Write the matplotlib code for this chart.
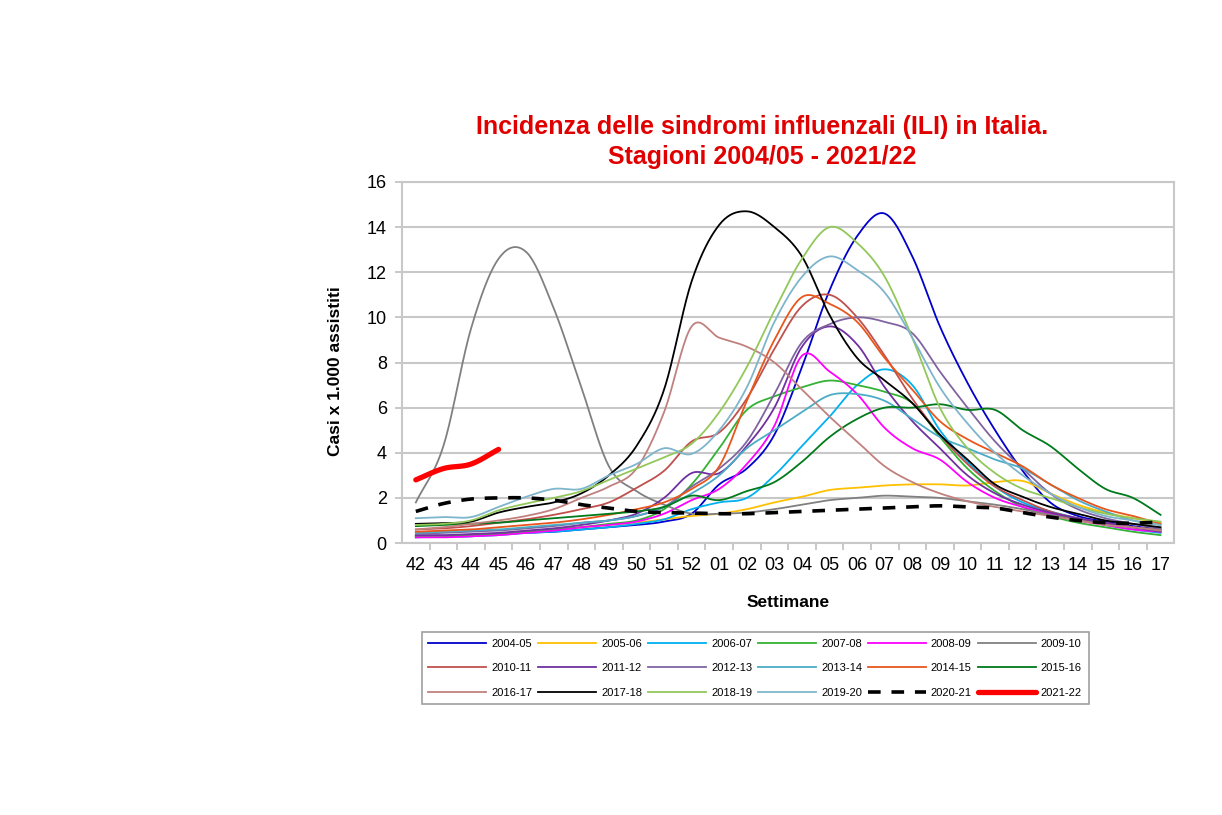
import numpy as np
import matplotlib
matplotlib.use('Agg')
import matplotlib.pyplot as plt

plt.rcParams['font.family'] = ['Liberation Sans', 'DejaVu Sans']

# settimane (asse x)
weeks = ['42', '43', '44', '45', '46', '47', '48', '49', '50', '51', '52',
         '01', '02', '03', '04', '05', '06', '07', '08', '09', '10', '11',
         '12', '13', '14', '15', '16', '17']

# incidenza per stagione (casi x 1.000 assistiti)
s0405 = [0.3, 0.3, 0.3, 0.4, 0.45, 0.5, 0.6, 0.7, 0.8, 0.95, 1.3, 2.6, 3.3, 4.8,
         7.8, 11.2, 13.6, 14.6, 12.7, 9.6, 7.1, 5.0, 3.2, 1.8, 1.2, 0.95, 0.75, 0.6]
s0506 = [0.3, 0.3, 0.35, 0.4, 0.5, 0.6, 0.7, 0.8, 0.9, 1.05, 1.2, 1.3, 1.5, 1.8,
         2.05, 2.35, 2.45, 2.55, 2.6, 2.6, 2.55, 2.7, 2.75, 2.2, 1.7, 1.35, 1.1, 0.9]
s0607 = [0.25, 0.3, 0.3, 0.35, 0.45, 0.5, 0.6, 0.7, 0.85, 1.05, 1.5, 1.8, 2.0, 3.0,
         4.3, 5.6, 7.0, 7.7, 7.0, 5.0, 3.6, 2.5, 1.8, 1.4, 1.1, 0.8, 0.6, 0.45]
s0708 = [0.3, 0.3, 0.35, 0.4, 0.5, 0.6, 0.7, 0.85, 1.0, 1.5, 2.6, 4.2, 5.9, 6.5,
         6.9, 7.2, 7.0, 6.7, 6.2, 4.7, 3.3, 2.3, 1.6, 1.2, 0.9, 0.7, 0.5, 0.35]
s0809 = [0.25, 0.25, 0.3, 0.35, 0.45, 0.55, 0.7, 0.8, 0.95, 1.3, 1.9, 2.4, 3.5, 5.2,
         8.3, 7.6, 6.6, 5.1, 4.2, 3.7, 2.7, 2.0, 1.6, 1.3, 1.0, 0.8, 0.6, 0.5]
s0910 = [1.8, 4.3, 9.5, 12.6, 12.9, 10.4, 6.9, 3.4, 2.3, 1.7, 1.3, 1.3, 1.35, 1.5,
         1.7, 1.9, 2.0, 2.1, 2.05, 2.0, 1.85, 1.7, 1.5, 1.25, 1.05, 0.85, 0.7, 0.6]
s1011 = [0.6, 0.65, 0.75, 0.9, 1.05, 1.25, 1.5, 1.8, 2.45, 3.2, 4.5, 4.9, 6.4, 8.6,
         10.5, 11.0, 10.0, 8.3, 6.4, 4.8, 3.5, 2.5, 1.9, 1.4, 1.1, 0.9, 0.7, 0.55]
s1112 = [0.35, 0.35, 0.4, 0.45, 0.55, 0.65, 0.8, 1.0, 1.3, 2.0, 3.1, 3.1, 4.3, 6.0,
         8.7, 9.6, 8.8, 6.9, 5.4, 4.2, 3.0, 2.2, 1.7, 1.35, 1.1, 0.9, 0.7, 0.5]
s1213 = [0.4, 0.45, 0.5, 0.55, 0.65, 0.75, 0.9, 1.0, 1.2, 1.6, 2.5, 3.3, 4.5, 6.6,
         8.9, 9.7, 10.0, 9.8, 9.3, 7.6, 6.0, 4.5, 3.3, 2.2, 1.5, 1.1, 0.85, 0.65]
s1314 = [0.45, 0.5, 0.55, 0.6, 0.7, 0.8, 0.9, 1.0, 1.2, 1.6, 2.2, 3.0, 4.2, 5.0,
         5.8, 6.55, 6.6, 6.3, 5.5, 4.7, 4.2, 3.7, 3.3, 2.6, 1.9, 1.4, 1.0, 0.8]
s1415 = [0.5, 0.55, 0.6, 0.7, 0.8, 0.9, 1.05, 1.25, 1.5, 1.8, 2.4, 3.4, 6.3, 9.0,
         10.9, 10.6, 9.8, 8.2, 6.8, 5.4, 4.6, 4.0, 3.4, 2.6, 2.0, 1.5, 1.2, 0.85]
s1516 = [0.75, 0.8, 0.85, 0.9, 1.0, 1.1, 1.2, 1.3, 1.4, 1.6, 2.1, 1.9, 2.3, 2.7,
         3.6, 4.7, 5.5, 6.0, 6.0, 6.15, 5.9, 5.9, 5.0, 4.3, 3.3, 2.4, 2.0, 1.25]
s1617 = [0.6, 0.7, 0.85, 1.0, 1.2, 1.5, 2.0, 2.5, 3.3, 5.8, 9.6, 9.1, 8.7, 8.0,
         6.8, 5.6, 4.5, 3.4, 2.7, 2.2, 1.85, 1.6, 1.4, 1.2, 1.0, 0.8, 0.7, 0.55]
s1718 = [0.85, 0.88, 0.95, 1.35, 1.6, 1.8, 2.2, 3.0, 4.3, 6.8, 11.6, 14.1, 14.7, 14.0,
         12.7, 10.1, 8.2, 7.2, 6.2, 4.8, 3.7, 2.6, 2.05, 1.6, 1.3, 1.0, 0.85, 0.7]
s1819 = [0.8, 0.85, 1.0, 1.45, 1.75, 2.0, 2.3, 2.8, 3.3, 3.8, 4.4, 5.8, 7.8, 10.3,
         12.6, 14.0, 13.3, 11.8, 9.1, 6.0, 4.2, 3.1, 2.4, 2.0, 1.6, 1.3, 1.1, 0.95]
s1920 = [1.1, 1.15, 1.15, 1.6, 2.05, 2.4, 2.4, 3.0, 3.5, 4.2, 3.95, 5.0, 6.9, 9.8,
         11.8, 12.7, 12.1, 11.1, 9.1, 6.9, 5.3, 4.0, 3.0, 2.2, 1.6, 1.2, 1.0, 0.8]
s2021 = [1.4, 1.75, 1.95, 2.0, 2.0, 1.9, 1.7, 1.55, 1.4, 1.35, 1.33, 1.3, 1.3, 1.35,
         1.4, 1.45, 1.5, 1.55, 1.6, 1.65, 1.6, 1.55, 1.35, 1.15, 1.0, 0.9, 0.88, 0.93]
s2122 = [2.8, 3.3, 3.5, 4.15]

seasons = ['2004-05', '2005-06', '2006-07', '2007-08', '2008-09', '2009-10',
           '2010-11', '2011-12', '2012-13', '2013-14', '2014-15', '2015-16',
           '2016-17', '2017-18', '2018-19', '2019-20', '2020-21', '2021-22']
values = [s0405, s0506, s0607, s0708, s0809, s0910, s1011, s1112, s1213,
          s1314, s1415, s1516, s1617, s1718, s1819, s1920, s2021, s2122]
colors = ['#0000CC', '#FFC000', '#00B0F0', '#33B233', '#FF00FF', '#808080',
          '#C0504D', '#7030A0', '#8064A2', '#4BACC6', '#E8561C', '#007A1A',
          '#C0817E', '#000000', '#92C85A', '#7FB5CC', '#000000', '#FF0000']


def smooth(y, n=20):
    # curva tipo Excel "linea smussata" (Catmull-Rom)
    y = np.asarray(y, float)
    x = np.arange(len(y), dtype=float)
    if len(y) < 3:
        return x, y
    m = np.gradient(y)
    xs, ys = [], []
    t = np.linspace(0, 1, n, endpoint=False)
    for i in range(len(y) - 1):
        p0, p3 = y[i], y[i + 1]
        p1, p2 = p0 + m[i] / 3, p3 - m[i + 1] / 3
        b = ((1 - t) ** 3 * p0 + 3 * (1 - t) ** 2 * t * p1
             + 3 * (1 - t) * t ** 2 * p2 + t ** 3 * p3)
        xs.append(x[i] + t)
        ys.append(b)
    xs.append([x[-1]])
    ys.append([y[-1]])
    return np.concatenate(xs), np.concatenate(ys)


fig = plt.figure(figsize=(12.22, 8.15), dpi=100)
ax = fig.add_axes([0.329, 0.3337, 0.632, 0.443])

handles = []
for name, v, c in zip(seasons, values, colors):
    xs, ys = smooth(v)
    if name == '2020-21':
        h, = ax.plot(xs, ys, color=c, lw=2.6, dashes=(3.5, 3), label=name)
    elif name == '2021-22':
        h, = ax.plot(xs, ys, color=c, lw=3.8, solid_capstyle='round', label=name)
    else:
        h, = ax.plot(xs, ys, color=c, lw=1.3, label=name)
    handles.append(h)

ax.set_xlim(-0.5, len(weeks) - 0.5)
ax.set_ylim(0, 16)
ax.set_yticks(range(0, 17, 2))
ax.set_xticks(range(len(weeks)))
ax.set_xticklabels(weeks)
ax.set_xticks(np.arange(0.5, len(weeks) - 1, 1), minor=True)
ax.tick_params(axis='x', which='major', length=0, pad=10, labelsize=13)
ax.tick_params(axis='x', which='minor', length=5, color='#BFBFBF', width=1.2)
ax.tick_params(axis='y', length=5, color='#BFBFBF', width=1.2, pad=6, labelsize=13)
ax.grid(axis='y', color='#C8C8C8', lw=1.5)
ax.set_axisbelow(True)
for sp in ax.spines.values():
    sp.set_color('#C8C8C8')
    sp.set_linewidth(1.5)

ax.set_ylabel('Casi x 1.000 assistiti', fontsize=12.5, fontweight='bold')
ax.yaxis.set_label_coords(-0.077, 0.476)
ax.set_xlabel('Settimane', fontsize=12.5, fontweight='bold', labelpad=15)

fig.text(0.6236, 0.826, 'Incidenza delle sindromi influenzali (ILI) in Italia.\nStagioni 2004/05 - 2021/22',
         ha='center', va='center', fontsize=18, fontweight='bold', color='#E00000',
         linespacing=1.3)

# legenda riga per riga (6 colonne)
order = [r * 6 + c for c in range(6) for r in range(3)]
leg = fig.legend([handles[i] for i in order], [seasons[i] for i in order],
                 ncol=6, loc='center', bbox_to_anchor=(0.618, 0.18),
                 fontsize=8, handlelength=5.2, handletextpad=0.45,
                 columnspacing=0.55, labelspacing=1.3, fancybox=False,
                 borderpad=0.6, edgecolor='#A0A0A0', framealpha=1)
leg.get_frame().set_linewidth(1.2)

plt.savefig('out.png', dpi=100)
